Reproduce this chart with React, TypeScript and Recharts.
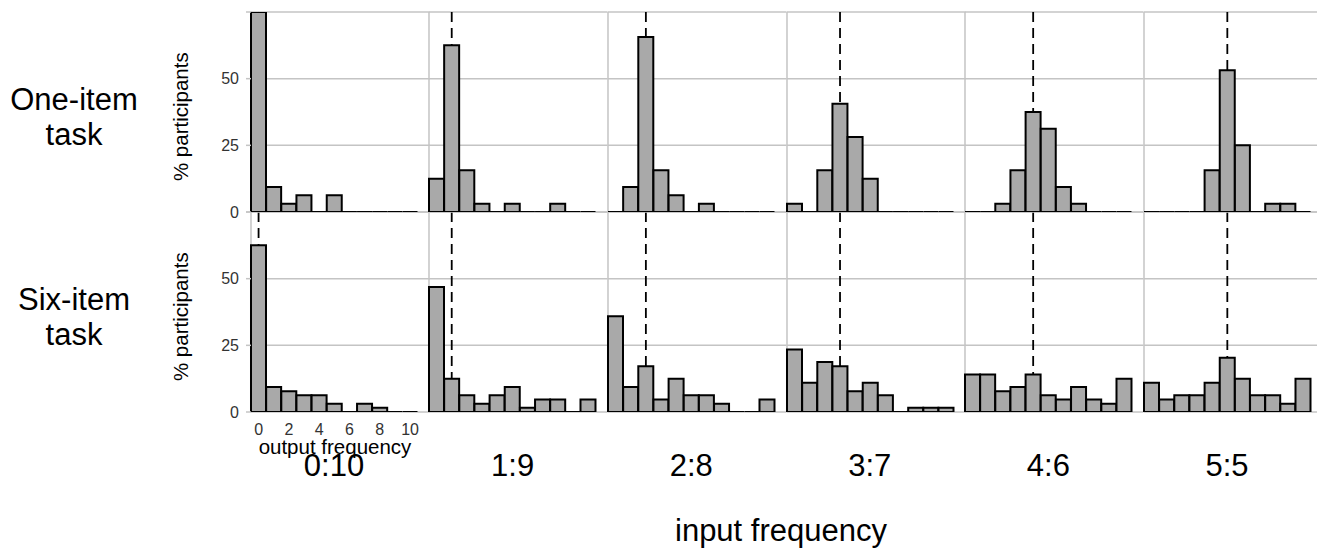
import React from 'react';
import { BarChart, Bar, XAxis, YAxis, CartesianGrid, ReferenceLine } from 'recharts';

// ---------- data ----------
const outputFrequency = [0, 1, 2, 3, 4, 5, 6, 7, 8, 9, 10];
const inputFrequency = [0, 1, 2, 3, 4, 5];
const inputLabels = ['0:10', '1:9', '2:8', '3:7', '4:6', '5:5'];
const taskLabels = [['One-item', 'task'], ['Six-item', 'task']];
const yTicks = [0, 25, 50, 75];

// One-item task (% participants per output frequency)
const oneItem0 = [75, 9.375, 3.125, 6.25, 0, 6.25, 0, 0, 0, 0, 0];
const oneItem1 = [12.5, 62.5, 15.625, 3.125, 0, 3.125, 0, 0, 3.125, 0, 0];
const oneItem2 = [0, 9.375, 65.625, 15.625, 6.25, 0, 3.125, 0, 0, 0, 0];
const oneItem3 = [3.125, 0, 15.625, 40.625, 28.125, 12.5, 0, 0, 0, 0, 0];
const oneItem4 = [0, 0, 3.125, 15.625, 37.5, 31.25, 9.375, 3.125, 0, 0, 0];
const oneItem5 = [0, 0, 0, 0, 15.625, 53.125, 25, 0, 3.125, 3.125, 0];

// Six-item task
const sixItem0 = [62.5, 9.375, 7.8125, 6.25, 6.25, 3.125, 0, 3.125, 1.5625, 0, 0];
const sixItem1 = [46.875, 12.5, 6.25, 3.125, 6.25, 9.375, 1.5625, 4.6875, 4.6875, 0, 4.6875];
const sixItem2 = [35.9375, 9.375, 17.1875, 4.6875, 12.5, 6.25, 6.25, 3.125, 0, 0, 4.6875];
const sixItem3 = [23.4375, 10.9375, 18.75, 17.1875, 7.8125, 10.9375, 6.25, 0, 1.5625, 1.5625, 1.5625];
const sixItem4 = [14.0625, 14.0625, 7.8125, 9.375, 14.0625, 6.25, 4.6875, 9.375, 4.6875, 3.125, 12.5];
const sixItem5 = [10.9375, 4.6875, 6.25, 6.25, 10.9375, 20.3125, 12.5, 6.25, 6.25, 3.125, 12.5];

const oneItem = [oneItem0, oneItem1, oneItem2, oneItem3, oneItem4, oneItem5];
const sixItem = [sixItem0, sixItem1, sixItem2, sixItem3, sixItem4, sixItem5];
const rows = [oneItem, sixItem];

// ---------- style / layout ----------
const FONT = '"Liberation Sans", Arial, Helvetica, sans-serif';
const GRID = '#c4c4c4';
const FILL = '#a9a9a9';
const PLOT_LEFT = 250.7;
const PANEL_STEP = 178.6;
const BAR_W = 15.15;
const RIGHT_EDGE = 1316.7;
const ROW_TOP = [11.7, 211.7];
const PLOT_H = 200;
const Y_AXIS_W = 70;
const X_AXIS_H = 30;
const PAD = 12;
const TICK_FS = 16;

const BarShape = (props: any) => {
  const { x, y, width, height } = props;
  if (x == null || y == null || width == null) return null;
  let top = y;
  let h = height || 0;
  if (h < 0) {
    top = y + h;
    h = -h;
  }
  if (h < 0.5) {
    // zero-valued bin: outline collapses onto the baseline
    const base = top + h;
    return <path d={`M${x},${base}L${x + width},${base}`} stroke="#000" strokeWidth={2} fill="none" />;
  }
  const d = `M${x},${top + h}L${x},${top}L${x + width},${top}L${x + width},${top + h}Z`;
  return <path d={d} fill={FILL} stroke="#000" strokeWidth={2} strokeLinejoin="miter" />;
};

function Panel({ row, col }: { row: number; col: number }) {
  const values = rows[row][col];
  const data = outputFrequency.map((o, i) => ({ o, pct: values[i] }));
  const left = PLOT_LEFT + PANEL_STEP * col;
  const plotW = col < 5 ? PANEL_STEP : RIGHT_EDGE - left;
  const showY = col === 0;
  const showX = col === 0 && row === 1;
  const yW = showY ? Y_AXIS_W : 0;
  const xH = showX ? X_AXIS_H : 0;
  const padR = col < 5 ? PAD : 1;
  const width = plotW + yW + PAD + padR;
  const height = PLOT_H + xH + PAD * 2;
  const chartLeft = left - yW - PAD;
  const chartTop = ROW_TOP[row] - PAD;
  const xIn = inputFrequency[col];
  return (
    <div style={{ position: 'absolute', left: chartLeft, top: chartTop, width, height }}>
      <BarChart
        width={width}
        height={height}
        data={data}
        margin={{ top: PAD, right: padR, bottom: PAD, left: PAD }}
        barCategoryGap={0}
        barGap={0}
      >
        <CartesianGrid stroke={GRID} strokeWidth={1.5} vertical={true} verticalPoints={[PAD + yW]} />
        <XAxis
          dataKey="o"
          type="category"
          hide={!showX}
          height={xH}
          interval={1}
          tickLine={false}
          axisLine={false}
          tickSize={0}
          tickMargin={12}
          fontSize={TICK_FS}
          padding={{ left: 0, right: plotW - BAR_W * 11 }}
          tick={{ fontSize: TICK_FS, fill: '#333', fontFamily: FONT }}
        />
        <YAxis
          type="number"
          domain={[0, 75]}
          ticks={yTicks}
          allowDataOverflow
          hide={!showY}
          width={yW}
          axisLine={false}
          tickLine={{ stroke: GRID, strokeWidth: 1.5 }}
          tickSize={5}
          tickMargin={7}
          fontSize={TICK_FS}
          tickFormatter={(v: number) => (v === 75 ? '' : String(v))}
          tick={{ fontSize: TICK_FS, fill: '#333', fontFamily: FONT }}
        />
        <Bar dataKey="pct" isAnimationActive={false} shape={BarShape} minPointSize={0.01} />
        <ReferenceLine
          segment={[
            { x: xIn, y: 75 },
            { x: xIn, y: values[xIn] },
          ]}
          stroke="#000"
          strokeWidth={1.8}
          strokeDasharray="10 6"
        />
      </BarChart>
    </div>
  );
}

export default function App() {
  const panels: React.ReactNode[] = [];
  // bottom row first so the top row's baseline is drawn over the lower row's top gridline
  for (let r = 1; r >= 0; r--) {
    for (let c = 0; c < 6; c++) {
      panels.push(<Panel key={`${r}-${c}`} row={r} col={c} />);
    }
  }
  return (
    <div style={{ position: 'absolute', left: 0, top: 0, width: 1318, height: 554, background: '#fff', overflow: 'hidden' }}>
      {panels}
      <svg
        width={1318}
        height={554}
        style={{ position: 'absolute', left: 0, top: 0, pointerEvents: 'none' }}
        fontFamily={FONT}
      >
        {taskLabels.map((lines, r) => (
          <g key={r}>
            <text x={74} y={110 + 200 * r} fontSize={31} textAnchor="middle" fill="#000">{lines[0]}</text>
            <text x={74} y={145 + 200 * r} fontSize={31} textAnchor="middle" fill="#000">{lines[1]}</text>
            <text
              transform={`translate(188, ${116.7 + 200 * r}) rotate(-90)`}
              fontSize={20.5}
              textAnchor="middle"
              fill="#000"
            >
              % participants
            </text>
          </g>
        ))}
        <text x={335} y={454} fontSize={20.5} textAnchor="middle" fill="#000">output frequency</text>
        {inputLabels.map((lab, k) => (
          <text
            key={lab}
            x={PLOT_LEFT + PANEL_STEP * k + 5.5 * BAR_W}
            y={476}
            fontSize={31}
            textAnchor="middle"
            fill="#000"
          >
            {lab}
          </text>
        ))}
        <text x={781} y={541} fontSize={31} textAnchor="middle" fill="#000">input frequency</text>
      </svg>
    </div>
  );
}
